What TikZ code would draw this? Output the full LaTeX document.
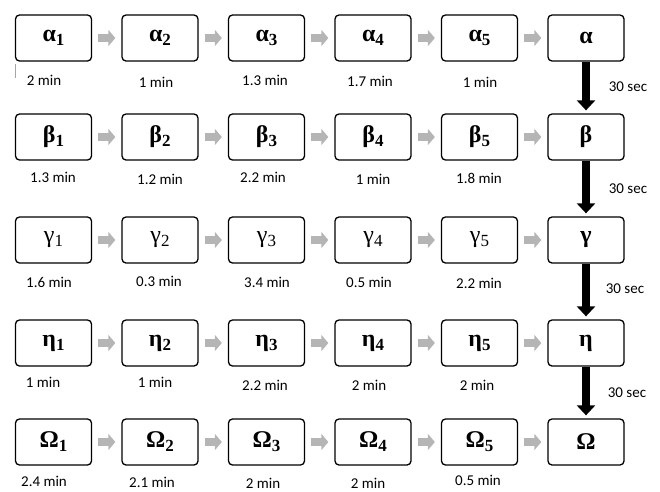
\documentclass[tikz,border=0pt]{standalone}
\usepackage{fontspec}
\setmainfont{Liberation Serif}
\newfontfamily\symfont{Liberation Serif}
\newfontfamily\lblfont{Carlito}
\usetikzlibrary{positioning,arrows.meta}
\newcommand{\sym}[2]{#1\raisebox{-4pt}{\fontsize{17}{17}\selectfont #2}}

\begin{document}
\begin{tikzpicture}[
    x=1pt, y=-1pt,
    node distance=29.2pt,
    stage/.style={rectangle,rounded corners=4pt,draw,line width=1.3pt,minimum width=76pt,minimum height=46pt,inner sep=0pt,font=\symfont\fontsize{24}{24}\selectfont\bfseries},
    plain stage/.style={stage,font=\symfont\fontsize{24}{24}\selectfont\mdseries},
    time/.style={inner sep=0pt,font=\lblfont\fontsize{15}{15}\selectfont},
    flow/.style={line width=7.5pt,color=gray!58,-{Triangle[length=7pt,width=16pt]},shorten <=6pt,shorten >=6pt},
    wait/.style={line width=8pt,color=black,-{Triangle[length=10pt,width=18pt]},shorten >=3pt}
]
\useasboundingbox (0,0) rectangle (660,491);

% Alpha
\node[stage] (al1) at (53.5,38) {\sym{α}{1}};
\node[stage, right=of al1] (al2) {\sym{α}{2}};
\node[stage, right=of al2] (al3) {\sym{α}{3}};
\node[stage, right=of al3] (al4) {\sym{α}{4}};
\node[stage, right=of al4] (al5) {\sym{α}{5}};
\node[stage, right=of al5] (al) {α};

% Beta
\node[stage] (be1) at (53.5,137) {\sym{β}{1}};
\node[stage, right=of be1] (be2) {\sym{β}{2}};
\node[stage, right=of be2] (be3) {\sym{β}{3}};
\node[stage, right=of be3] (be4) {\sym{β}{4}};
\node[stage, right=of be4] (be5) {\sym{β}{5}};
\node[stage, right=of be5] (be) {β};

% Gamma
\node[plain stage] (ga1) at (53.5,240) {\sym{γ}{1}};
\node[plain stage, right=of ga1] (ga2) {\sym{γ}{2}};
\node[plain stage, right=of ga2] (ga3) {\sym{γ}{3}};
\node[plain stage, right=of ga3] (ga4) {\sym{γ}{4}};
\node[plain stage, right=of ga4] (ga5) {\sym{γ}{5}};
\node[stage, right=of ga5] (ga) {γ};

% Eta
\node[stage] (et1) at (53.5,343) {\sym{η}{1}};
\node[stage, right=of et1] (et2) {\sym{η}{2}};
\node[stage, right=of et2] (et3) {\sym{η}{3}};
\node[stage, right=of et3] (et4) {\sym{η}{4}};
\node[stage, right=of et4] (et5) {\sym{η}{5}};
\node[stage, right=of et5] (et) {η};

% Omega
\node[stage] (om1) at (53.5,442) {\sym{Ω}{1}};
\node[stage, right=of om1] (om2) {\sym{Ω}{2}};
\node[stage, right=of om2] (om3) {\sym{Ω}{3}};
\node[stage, right=of om3] (om4) {\sym{Ω}{4}};
\node[stage, right=of om4] (om5) {\sym{Ω}{5}};
\node[stage, right=of om5] (om) {Ω};

% Tiempos
\node[time] (tal1) at (44,80) {2 min};
\node[time] (tal2) at (156,82) {1 min};
\node[time] (tal3) at (265,80) {1.3 min};
\node[time] (tal4) at (370,81) {1.7 min};
\node[time] (tal5) at (480,82) {1 min};
\node[time] (tbe1) at (53,177) {1.3 min};
\node[time] (tbe2) at (160,179) {1.2 min};
\node[time] (tbe3) at (263,177) {2.2 min};
\node[time] (tbe4) at (373,179) {1 min};
\node[time] (tbe5) at (479,178) {1.8 min};
\node[time] (tga1) at (49,282) {1.6 min};
\node[time] (tga2) at (159,281) {0.3 min};
\node[time] (tga3) at (267,282) {3.4 min};
\node[time] (tga4) at (369,282) {0.5 min};
\node[time] (tga5) at (479,283) {2.2 min};
\node[time] (tet1) at (43,382) {1 min};
\node[time] (tet2) at (155,382) {1 min};
\node[time] (tet3) at (265,385) {2.2 min};
\node[time] (tet4) at (369,385) {2 min};
\node[time] (tet5) at (477,385) {2 min};
\node[time] (tom1) at (44,481.5) {2.4 min};
\node[time] (tom2) at (152,482.5) {2.1 min};
\node[time] (tom3) at (263,483.5) {2 min};
\node[time] (tom4) at (368,483) {2 min};
\node[time] (tom5) at (478,480.5) {0.5 min};
\node[time] (wal) at (628,87) {30 sec};
\node[time] (wbe) at (628,189) {30 sec};
\node[time] (wga) at (625,289) {30 sec};
\node[time] (wet) at (627,393) {30 sec};

% Flechas grises
\draw[flow] (al1) -- (al2);
\draw[flow] (al2) -- (al3);
\draw[flow] (al3) -- (al4);
\draw[flow] (al4) -- (al5);
\draw[flow] (al5) -- (al);
\draw[flow] (be1) -- (be2);
\draw[flow] (be2) -- (be3);
\draw[flow] (be3) -- (be4);
\draw[flow] (be4) -- (be5);
\draw[flow] (be5) -- (be);
\draw[flow] (ga1) -- (ga2);
\draw[flow] (ga2) -- (ga3);
\draw[flow] (ga3) -- (ga4);
\draw[flow] (ga4) -- (ga5);
\draw[flow] (ga5) -- (ga);
\draw[flow] (et1) -- (et2);
\draw[flow] (et2) -- (et3);
\draw[flow] (et3) -- (et4);
\draw[flow] (et4) -- (et5);
\draw[flow] (et5) -- (et);
\draw[flow] (om1) -- (om2);
\draw[flow] (om2) -- (om3);
\draw[flow] (om3) -- (om4);
\draw[flow] (om4) -- (om5);
\draw[flow] (om5) -- (om);

% Flechas negras
\draw[wait] (al) -- (be);
\draw[wait] (be) -- (ga);
\draw[wait] (ga) -- (et);
\draw[wait] (et) -- (om);

% Marca
\coordinate (mark) at (15,64);
\draw[gray!70, line width=0.8pt] (mark) -- ++(0,14);

\end{tikzpicture}
\end{document}
